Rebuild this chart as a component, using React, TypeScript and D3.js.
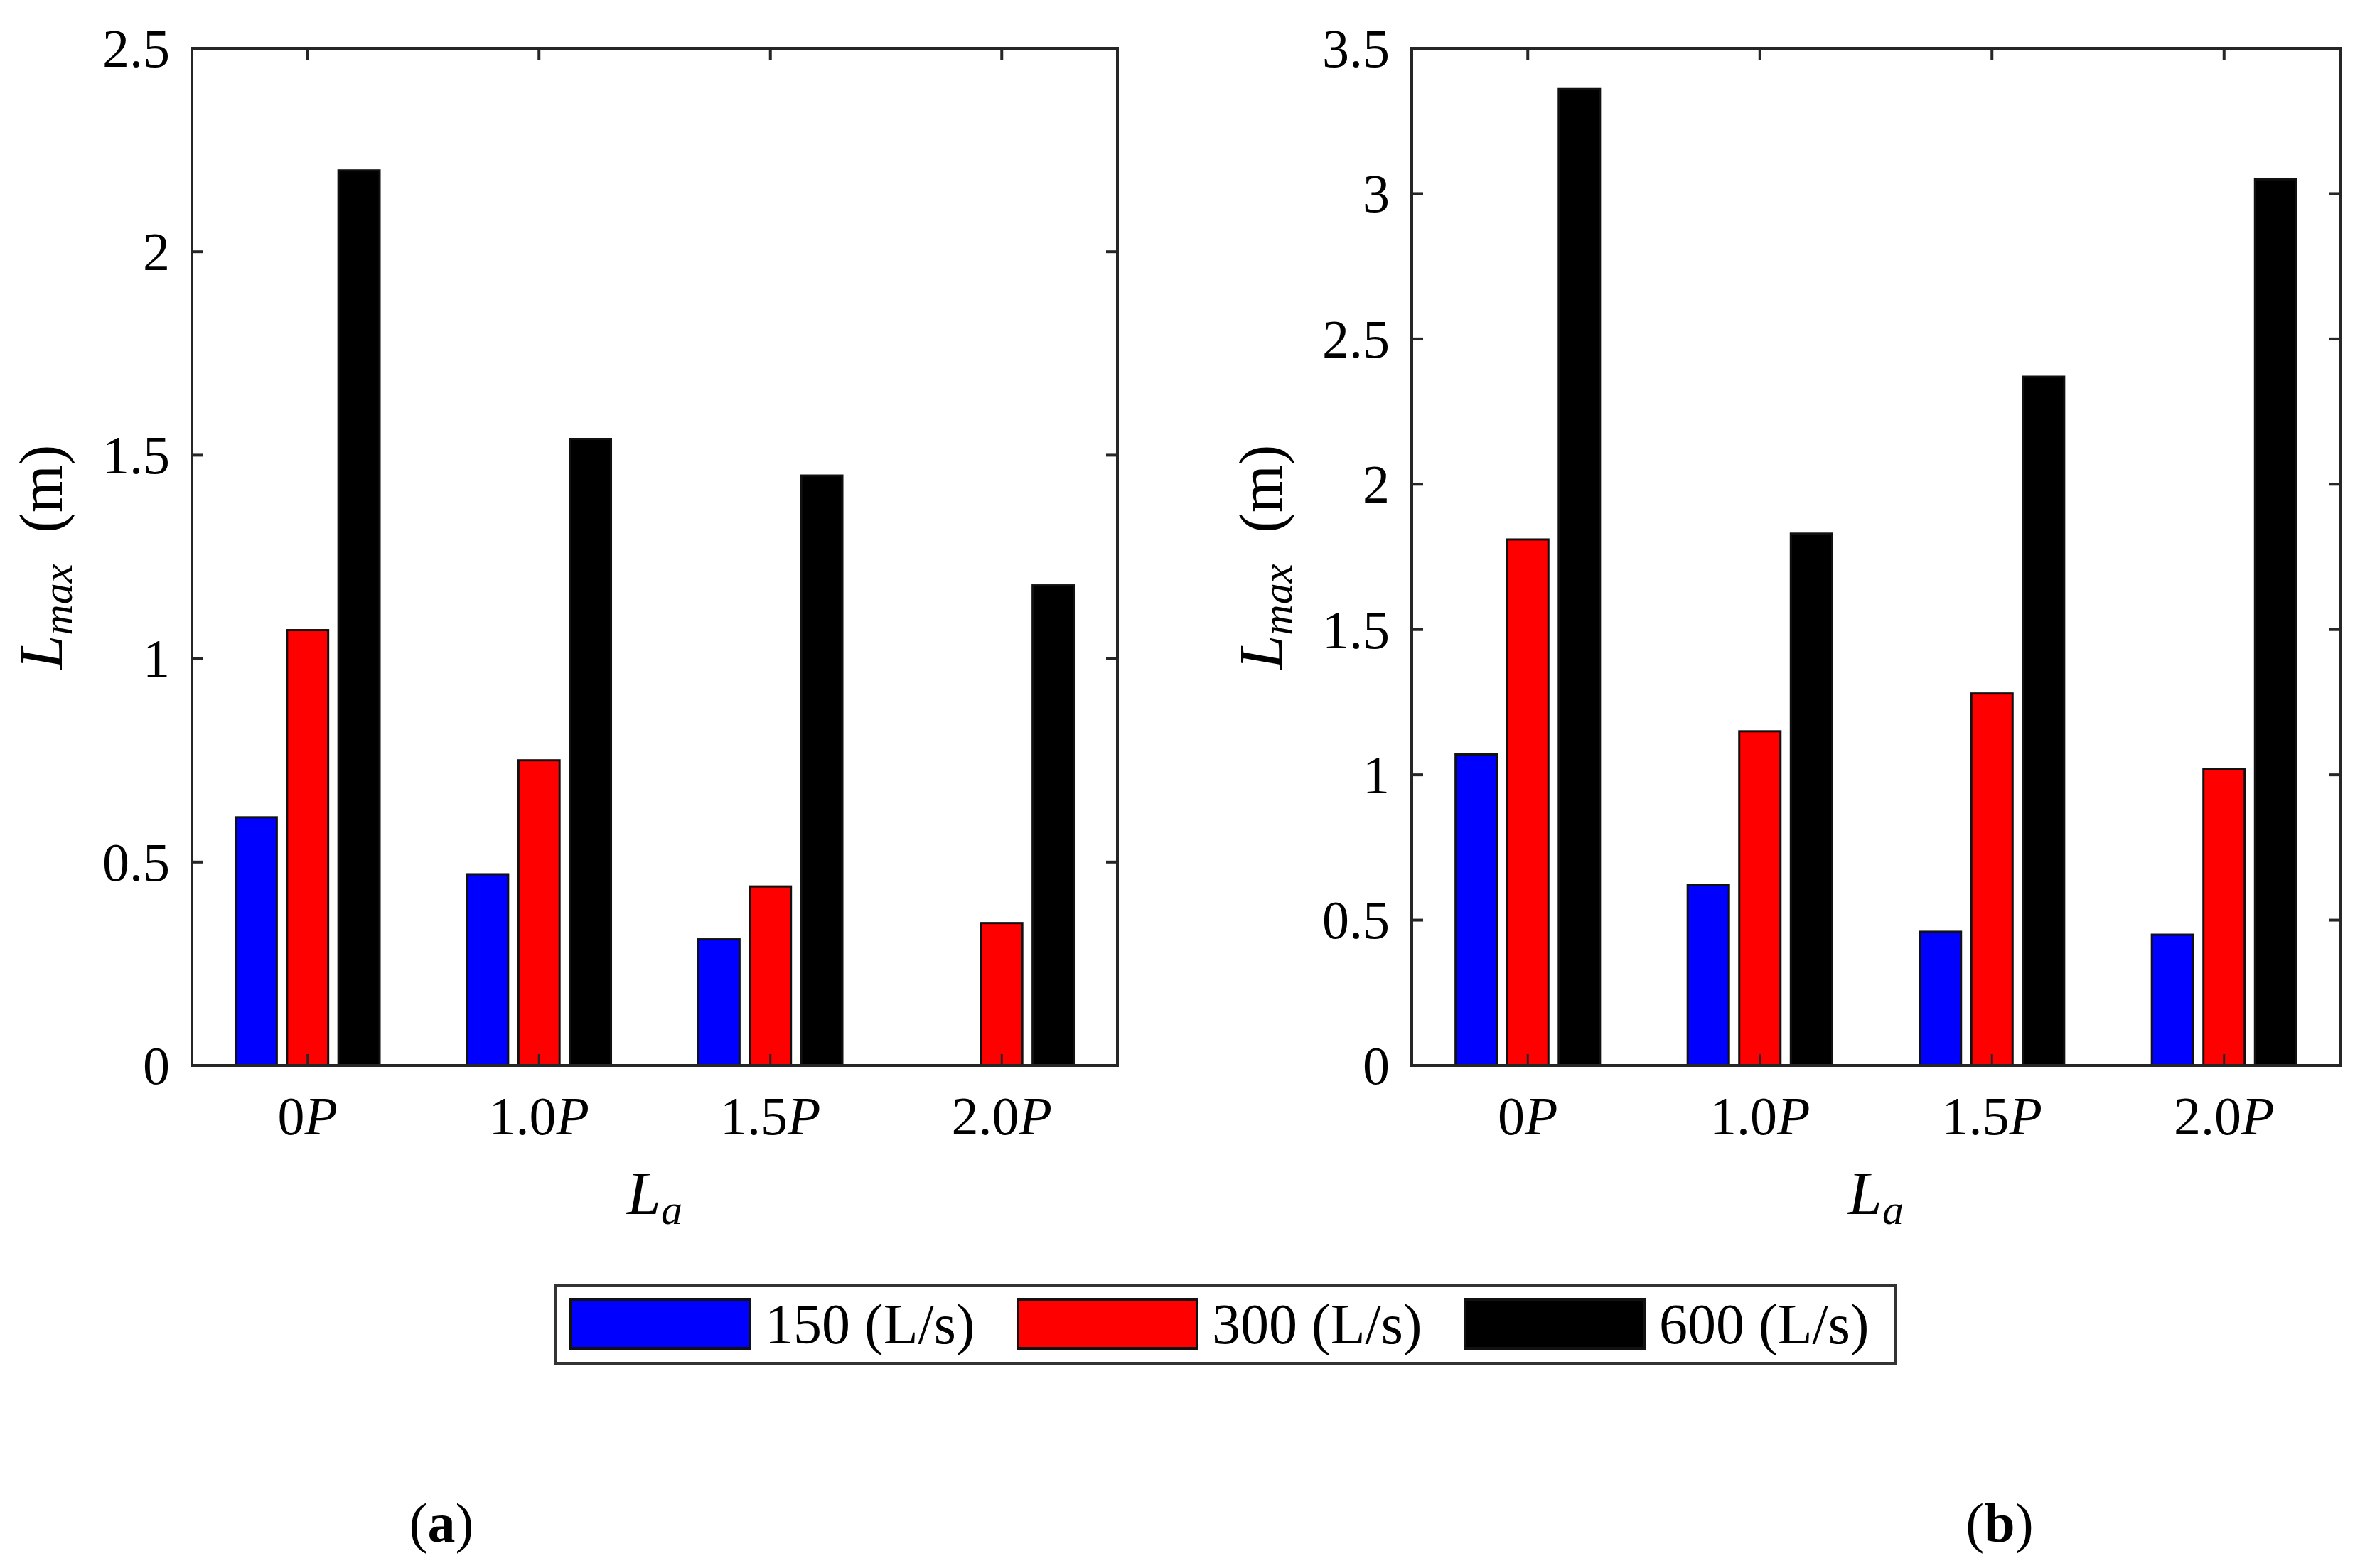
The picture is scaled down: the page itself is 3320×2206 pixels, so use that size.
import * as d3 from 'd3';

// grouped bars, two panels (a) and (b)
const groups = ['0', '1.0', '1.5', '2.0'];
const seriesNames = ['150 (L/s)', '300 (L/s)', '600 (L/s)'];
const seriesColors = ['#0000ff', '#ff0000', '#000000'];

// panel (a)
const a150 = [0.61, 0.47, 0.31, 0];
const a300 = [1.07, 0.75, 0.44, 0.35];
const a600 = [2.2, 1.54, 1.45, 1.18];
const aTicks = [0, 0.5, 1, 1.5, 2, 2.5];

// panel (b)
const b150 = [1.07, 0.62, 0.46, 0.45];
const b300 = [1.81, 1.15, 1.28, 1.02];
const b600 = [3.36, 1.83, 2.37, 3.05];
const bTicks = [0, 0.5, 1, 1.5, 2, 2.5, 3, 3.5];

const W = 3320;
const H = 2206;
const top = 68;
const bottom = 1499;
const font = '"Liberation Serif", "Times New Roman", serif';
const axisColor = '#262626';
const tickLen = 16;

// matlab grouped bar geometry
const groupWidth = 3 / 4.5;
const barW = (groupWidth / 3) * 0.8;
const offsets = [-groupWidth / 3, 0, groupWidth / 3];

const Panel = ({ x0, x1, series, ticks, yMax, labelLetter, labelX }) => {
  const x = d3.scaleLinear().domain([0.5, groups.length + 0.5]).range([x0, x1]);
  const y = d3.scaleLinear().domain([0, yMax]).range([bottom, top]);
  const unit = x(1) - x(0);
  const cx = (x0 + x1) / 2;
  const cy = (top + bottom) / 2;
  const ylx = x0 - 183;

  return (
    <g>
      {series.map((vals, si) =>
        vals.map((v, gi) => (
          <rect
            key={si + '-' + gi}
            x={x(gi + 1 + offsets[si]) - (barW * unit) / 2}
            y={y(v)}
            width={barW * unit}
            height={y(0) - y(v)}
            fill={seriesColors[si]}
            stroke="#111"
            strokeWidth={3}
          />
        ))
      )}
      {/* box */}
      <rect x={x0} y={top} width={x1 - x0} height={bottom - top} fill="none" stroke={axisColor} strokeWidth={4} />
      {/* y ticks both sides */}
      {ticks.map((t) => (
        <g key={'yt' + t}>
          <line x1={x0} x2={x0 + tickLen} y1={y(t)} y2={y(t)} stroke={axisColor} strokeWidth={4} />
          <line x1={x1} x2={x1 - tickLen} y1={y(t)} y2={y(t)} stroke={axisColor} strokeWidth={4} />
          <text x={x0 - 31} y={y(t)} dy="0.34em" textAnchor="end" fontSize={76} fontFamily={font} fill="#000">
            {String(t)}
          </text>
        </g>
      ))}
      {/* x ticks top and bottom */}
      {groups.map((g, gi) => (
        <g key={'xt' + g}>
          <line x1={x(gi + 1)} x2={x(gi + 1)} y1={bottom} y2={bottom - tickLen} stroke={axisColor} strokeWidth={3} />
          <line x1={x(gi + 1)} x2={x(gi + 1)} y1={top} y2={top + tickLen} stroke={axisColor} strokeWidth={4} />
          <text x={x(gi + 1)} y={1596} textAnchor="middle" fontSize={76} fontFamily={font} fill="#000">
            {g}
            <tspan fontStyle="italic">P</tspan>
          </text>
        </g>
      ))}
      {/* x label */}
      <text x={cx} y={1708} textAnchor="middle" fontSize={86} fontFamily={font} fill="#000">
        <tspan fontStyle="italic">L</tspan>
        <tspan fontStyle="italic" fontSize={60} dy={14}>a</tspan>
      </text>
      {/* y label */}
      <text
        transform={`translate(${ylx},${cy}) rotate(-90)`}
        textAnchor="middle"
        fontSize={86}
        fontFamily={font}
        fill="#000"
      >
        <tspan fontStyle="italic">L</tspan>
        <tspan fontStyle="italic" fontSize={60} dy={14}>max</tspan>
        <tspan dy={-14} dx={44}>(m)</tspan>
      </text>
      {/* panel letter */}
      <text x={labelX} y={2169} textAnchor="middle" fontSize={78} fontFamily={font} fill="#000">
        (<tspan fontWeight="bold">{labelLetter}</tspan>)
      </text>
    </g>
  );
};

const Legend = () => {
  const bx = 781;
  const by = 1808;
  const bw = 1886;
  const bh = 110;
  const pitch = 629;
  return (
    <g>
      <rect x={bx} y={by} width={bw} height={bh} fill="#fff" stroke="#333" strokeWidth={4} />
      {seriesNames.map((name, i) => (
        <g key={name}>
          <rect x={803 + i * pitch} y={1828} width={252} height={69} fill={seriesColors[i]} stroke="#111" strokeWidth={4} />
          <text x={1076 + i * pitch} y={1890} fontSize={80} fontFamily={font} fill="#000">
            {name}
          </text>
        </g>
      ))}
    </g>
  );
};

export default function App() {
  return (
    <div style={{ position: 'absolute', left: 0, top: 0 }}>
      <svg width={W} height={H} viewBox={`0 0 ${W} ${H}`} style={{ display: 'block', background: '#fff' }}>
        <rect x={0} y={0} width={W} height={H} fill="#fff" />
        <Panel x0={270} x1={1572} series={[a150, a300, a600]} ticks={aTicks} yMax={2.5} labelLetter="a" labelX={621} />
        <Panel x0={1986} x1={3292} series={[b150, b300, b600]} ticks={bTicks} yMax={3.5} labelLetter="b" labelX={2813} />
        <Legend />
      </svg>
    </div>
  );
}
